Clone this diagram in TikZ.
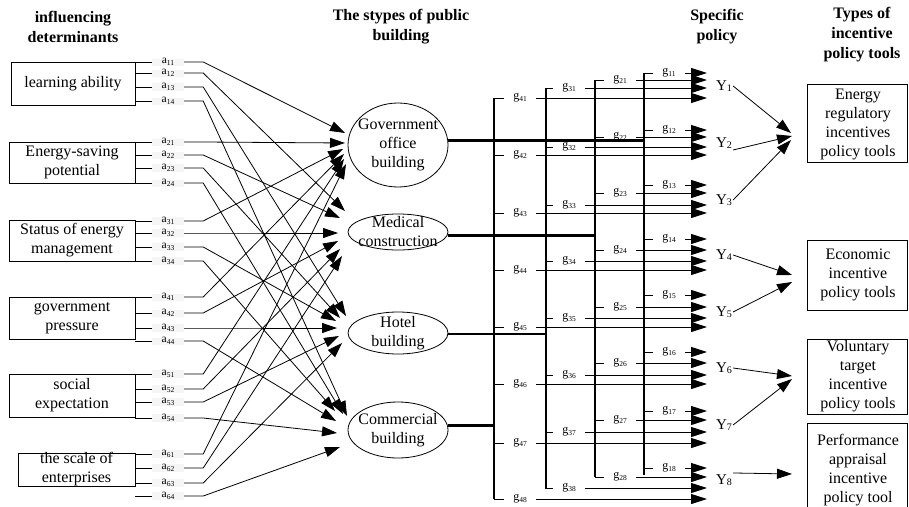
\documentclass[tikz,border=0pt]{standalone}
\usepackage{fontspec}
\setmainfont{Liberation Serif}
\usetikzlibrary{arrows.meta,shapes.geometric}
\newcommand\mysub[1]{\raisebox{-0.3ex}{\fontsize{7.5}{7.5}\selectfont #1}}
\newcommand\ysub[1]{\raisebox{-0.25ex}{\fontsize{10}{10}\selectfont #1}}
\begin{document}
\begin{tikzpicture}[x=1pt,y=-1pt,
  thinl/.style={line width=0.8pt},
  arr/.style={line width=0.8pt,-{Triangle[length=15pt,width=10pt]}},
  garr/.style={line width=1pt,-{Triangle[length=16pt,width=10pt]}},
  bus/.style={line width=2.6pt},
  box/.style={draw,line width=0.8pt,inner sep=0pt},
  bldg/.style={ellipse,draw,line width=0.8pt,inner sep=0pt,minimum width=100pt},
  alab/.style={inner sep=0pt,minimum width=32pt,minimum height=7pt,fill=black!4,font=\fontsize{11.5}{11.5}\selectfont},
  glab/.style={inner sep=0pt,minimum width=32pt,minimum height=7pt,font=\fontsize{12}{12}\selectfont},
  ylab/.style={inner sep=1pt,font=\fontsize{15}{15}\selectfont},
  btxt/.style={align=center,inner sep=0pt,font=\fontsize{16}{19}\selectfont},
  ttl/.style={align=center,inner sep=0pt,font=\fontsize{16}{20}\selectfont\bfseries}]
\useasboundingbox (0,0) rectangle (909,506);
\clip (0,0) rectangle (909,506);

% titles
\node[ttl] (h1) at (73,27) {influencing\\determinants};
\node[ttl] (h2) at (401,27) {The stypes of public\\building};
\node[ttl] (h3) at (717,27) {Specific\\policy};
\node[ttl] (h4) at (862,35) {Types of\\incentive\\policy tools};

% determinant boxes
\node[box,minimum width=124pt,minimum height=43pt] (d1) at (73,83.5) {};
\node[box,minimum width=126pt,minimum height=41pt] (d2) at (72,162.5) {};
\node[box,minimum width=126pt,minimum height=41pt] (d3) at (72,240.5) {};
\node[box,minimum width=126pt,minimum height=42pt] (d4) at (72,318) {};
\node[box,minimum width=126pt,minimum height=43pt] (d5) at (72,395.5) {};
\node[box,minimum width=117pt,minimum height=33pt] (d6) at (76.5,469.5) {};
\node[btxt] (dt1) at (d1) {learning ability};
\node[btxt] (dt2) at (d2) {Energy-saving\\potential};
\node[btxt] (dt3) at (d3) {Status of energy\\management};
\node[btxt] (dt4) at (d4) {government\\pressure};
\node[btxt] (dt5) at (d5) {social\\expectation};
\node[btxt] (dt6) at (d6) {the scale of\\enterprises};

% building ellipses
\node[bldg,minimum height=84pt] (b1) at (398,145) {};
\node[bldg,minimum height=36pt] (b2) at (398,232) {};
\node[bldg,minimum height=42pt] (b3) at (398,333) {};
\node[bldg,minimum height=56pt] (b4) at (398,430) {};
\node[btxt] (bt1) at (b1) {Government\\office\\building};
\node[btxt] (bt2) at (b2) {Medical\\construction};
\node[btxt] (bt3) at (b3) {Hotel\\building};
\node[btxt] (bt4) at (b4) {Commercial\\building};

% a-lines
\foreach \i/\j/\y/\tx/\ty in {
  1/1/62/345/133, 1/2/73/345/211, 1/3/87/346/316, 1/4/101/347/416,
  2/1/142/345/143, 2/2/155/340/218, 2/3/168/340/318, 2/4/183/343/414,
  3/1/221/343/149, 3/2/233/338/233, 3/3/247/336/321, 3/4/261/335/411,
  4/1/297/344/154, 4/2/313/338/241, 4/3/328/337/328, 4/4/341/336/421,
  5/1/374/344/159, 5/2/389/340/249, 5/3/402/339/336, 5/4/418/337/433,
  6/1/454/346/164, 6/2/468/342/256, 6/3/483/342/343, 6/4/496/340/447}{
  \node[alab] (a\i\j) at (168,\y) {a\mysub{\i\j}};
  \coordinate (t\i\j) at (\tx,\ty);
  \draw[thinl] (d\i.east |- a\i\j) -- (a\i\j.west);
  \draw[arr] (a\i\j.east) -- ++(19,0) -- (t\i\j);
}

% vertical buses
\coordinate (v1) at (644,73);  \coordinate (v1b) at (644,475);
\coordinate (v2) at (595,80);  \coordinate (v2b) at (595,477);
\coordinate (v3) at (546,88);  \coordinate (v3b) at (546,489);
\coordinate (v4) at (494,98);  \coordinate (v4b) at (494,499);
\draw[bus] (v1) -- (v1b);
\draw[bus] (v2) -- (v2b);
\draw[bus] (v3) -- (v3b);
\draw[bus] (v4) -- (v4b);
\draw[bus] (b1.5) -- (b1.5 -| v1);
\draw[bus] (b2.-4) -- (b2.-4 -| v2);
\draw[bus] (b3.-1) -- (b3.-1 -| v3);
\draw[bus] (b4.5) -- (b4.5 -| v4);

% g-lines
\foreach \c/\k/\y in {
  1/1/73, 2/1/80, 3/1/88, 4/1/98,
  1/2/130, 2/2/137, 3/2/147, 4/2/155,
  1/3/185, 2/3/193, 3/3/205, 4/3/213,
  1/4/239, 2/4/250, 3/4/261, 4/4/270,
  1/5/295, 2/5/307, 3/5/318, 4/5/327,
  1/6/352, 2/6/363, 3/6/375, 4/6/384,
  1/7/411, 2/7/420, 3/7/432, 4/7/443,
  1/8/468, 2/8/477, 3/8/488, 4/8/499}{
  \pgfmathsetmacro\lx{{669,620,569,520}[\c-1]}
  \coordinate (e\c\k) at (707,\y);
  \node[glab] (g\c\k) at (\lx,\y) {g\mysub{\c\k}};
  \draw[line width=1pt] (v\c |- e\c\k) -- (g\c\k.west);
  \draw[garr] (g\c\k.east) -- (e\c\k);
}

% specific policies
\node[ylab] (y1) at (724,86) {Y\ysub{1}};
\node[ylab] (y2) at (724,143) {Y\ysub{2}};
\node[ylab] (y3) at (724,200) {Y\ysub{3}};
\node[ylab] (y4) at (724,255) {Y\ysub{4}};
\node[ylab] (y5) at (724,312) {Y\ysub{5}};
\node[ylab] (y6) at (724,368) {Y\ysub{6}};
\node[ylab] (y7) at (724,425) {Y\ysub{7}};
\node[ylab] (y8) at (724,480) {Y\ysub{8}};

% tool boxes
\node[box,minimum width=100pt,minimum height=78pt] (r1) at (857,123) {};
\node[box,minimum width=100pt,minimum height=70pt] (r2) at (857,275) {};
\node[box,minimum width=100pt,minimum height=75pt] (r3) at (857,376.5) {};
\node[box,minimum width=100pt,minimum height=100pt] (r4) at (857,473) {};
\node[btxt] (rt1) at (858,124) {Energy\\regulatory\\incentives\\policy tools};
\node[btxt] (rt2) at (858,275) {Economic\\incentive\\policy tools};
\node[btxt] (rt3) at (858,376) {Voluntary\\target\\incentive\\policy tools};
\node[btxt] (rt4) at (858,470) {Performance\\appraisal\\incentive\\policy tool};

\coordinate (q1) at (791,133);
\coordinate (q2) at (792,136);
\coordinate (q3) at (791,140);
\coordinate (q4) at (792,275);
\coordinate (q5) at (792,282);
\coordinate (q6) at (792,376);
\coordinate (q7) at (792,379);
\coordinate (q8) at (792,474);
\draw[arr] (y1.east) -- (q1);
\draw[arr] (y2.south east) -- (q2);
\draw[arr] (y3.east) -- (q3);
\draw[arr] (y4.east) -- (q4);
\draw[arr] (y5.east) -- (q5);
\draw[arr] (y6.east) -- (q6);
\draw[arr] (y7.east) -- (q7);
\draw[arr] (y8.north east) -- (q8);
\end{tikzpicture}
\end{document}
